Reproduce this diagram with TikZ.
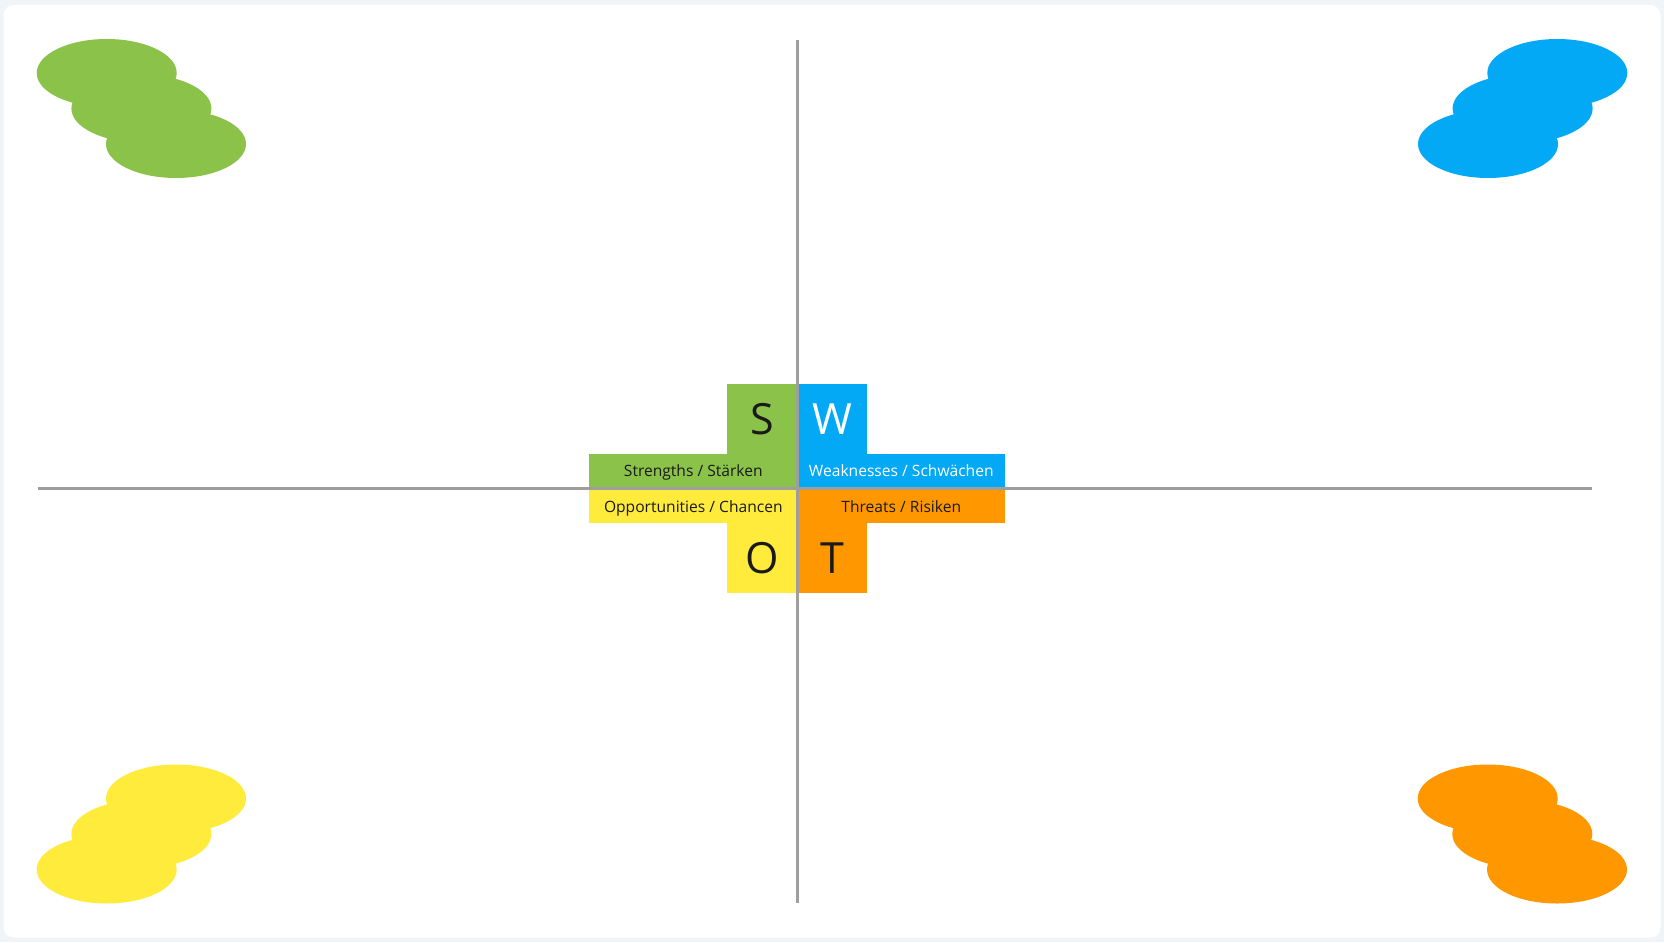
\documentclass[tikz,border=0pt]{standalone}
\usepackage{fontspec}
\setmainfont{Open Sans}
\definecolor{pagebg}{HTML}{F0F4F7}
\definecolor{sgreen}{HTML}{8BC34A}
\definecolor{wblue}{HTML}{03A9F4}
\definecolor{oyellow}{HTML}{FFEB3B}
\definecolor{torange}{HTML}{FF9800}
\definecolor{axisgray}{HTML}{9E9E9E}
\definecolor{ink}{HTML}{1A1A1A}
\tikzset{
  cell/.style={draw=none, inner sep=0pt, outer sep=0pt, anchor=north west, text=ink},
  letterbox/.style={cell, minimum width=70pt, minimum height=69.5pt, text height=31pt, text depth=0pt, font=\fontsize{43}{43}\selectfont},
  barbox/.style={cell, minimum width=208pt, minimum height=33.5pt, text height=15pt, text depth=3pt, font=\fontsize{15.6}{15.6}\selectfont},
  axis/.style={draw=axisgray, line width=3.2pt},
  blob/.style={x radius=70pt, y radius=34pt}
}
\begin{document}
\begin{tikzpicture}[x=1pt,y=-1pt]
\useasboundingbox (0,0) rectangle (1664,942);
\fill[pagebg] (0,0) rectangle (1664,942);
\fill[white, rounded corners=10pt] (3.5,5) rectangle (1660.5,937.5);

% corner blobs
\fill[sgreen] (106.7,73) ellipse [blob];
\fill[sgreen] (141.4,108.5) ellipse [blob];
\fill[sgreen] (176,144) ellipse [blob];

\fill[wblue] (1557.3,73) ellipse [blob];
\fill[wblue] (1522.6,108.5) ellipse [blob];
\fill[wblue] (1488,144) ellipse [blob];

\fill[oyellow] (176,798.5) ellipse [blob];
\fill[oyellow] (141.4,834) ellipse [blob];
\fill[oyellow] (106.7,869.5) ellipse [blob];

\fill[torange] (1487.7,798.5) ellipse [blob];
\fill[torange] (1522.3,834) ellipse [blob];
\fill[torange] (1557,869.5) ellipse [blob];

% SWOT cross
\node[letterbox, fill=sgreen] (S) at (727.3,384.3) {S};
\node[letterbox, fill=wblue, text=white] (W) at (797.3,384.3) {W};
\node[barbox, fill=sgreen] (Sbar) at (589.3,454) {Strengths / Stärken};
\node[barbox, fill=wblue, text=white] (Wbar) at (797.3,454) {Weaknesses / Schwächen};
\node[barbox, fill=oyellow] (Obar) at (589.3,489.5) {Opportunities / Chancen};
\node[barbox, fill=torange] (Tbar) at (797.3,489.5) {Threats / Risiken};
\node[letterbox, fill=oyellow] (O) at (727.3,523.2) {O};
\node[letterbox, fill=torange] (T) at (797.3,523.2) {T};

% axes
\coordinate (axtop) at (797.3,40);
\coordinate (axbottom) at (797.3,903);
\coordinate (axleft) at (38,488.7);
\coordinate (axright) at (1591.7,488.7);
\draw[axis] (axtop) -- (axbottom);
\draw[axis] (axleft) -- (axright);
\end{tikzpicture}
\end{document}
